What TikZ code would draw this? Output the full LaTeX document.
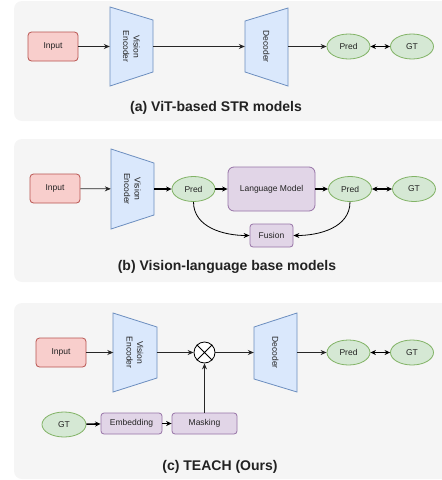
\documentclass[tikz,border=0pt]{standalone}
\usepackage{fontspec}
\setmainfont{Liberation Sans}
\usetikzlibrary{arrows.meta,shapes.geometric}
\definecolor{redf}{HTML}{F8CECC}\definecolor{reds}{HTML}{B85450}
\definecolor{bluef}{HTML}{DAE8FC}\definecolor{blues}{HTML}{6C8EBF}
\definecolor{greenf}{HTML}{D5E8D4}\definecolor{greens}{HTML}{82B366}
\definecolor{purf}{HTML}{E1D5E7}\definecolor{purs}{HTML}{9673A6}
\definecolor{panelf}{HTML}{F5F5F5}
\definecolor{txt}{HTML}{222222}
\begin{document}
\begin{tikzpicture}[x=1pt,y=1pt,
  every node/.style={font=\fontsize{8.5}{10.5}\selectfont, text=txt, inner sep=0pt},
  panel/.style={fill=panelf, rounded corners=8pt},
  inbox/.style={draw=reds, fill=redf, rounded corners=3.5pt, minimum width=50, minimum height=29, line width=0.8pt},
  purbox/.style={draw=purs, fill=purf, rounded corners=3pt, line width=0.8pt},
  oval/.style={ellipse, draw=greens, fill=greenf, minimum width=43, minimum height=25, line width=0.8pt},
  trap/.style={draw=blues, fill=bluef, line width=0.8pt},
  anchorbox/.style={rectangle, draw=none, minimum width=43, minimum height=79},
  thin/.style={draw=black!85, line width=0.8pt, -{Stealth[length=6pt,width=5pt]}},
  thick/.style={draw=black, line width=1.6pt, -{Stealth[length=5.5pt,width=5pt]}},
  both/.style={draw=black, line width=1.6pt, {Stealth[length=5.5pt,width=5pt]}-{Stealth[length=5.5pt,width=5pt]}},
  title/.style={font=\fontsize{14}{16}\selectfont\bfseries}
]
\useasboundingbox (0,0) rectangle (442,-480);
\clip (0,0) rectangle (442,-480);
% panels
\fill[panel] (14,-1) rectangle (470,-121);
\fill[panel] (14,-139) rectangle (470,-282);
\fill[panel] (14,-303) rectangle (470,-479);

% ---------- (a)
\node[inbox] (ina) at (53,-46.5) {Input};
\node[anchorbox] (vea) at (131.5,-46.5) {};
\path[trap] (110,-7) -- (110,-86) -- (153,-72) -- (153,-20) -- cycle;
\node[rotate=-90, align=center] (veat) at (vea.center) {Vision\\Encoder};
\node[anchorbox] (deca) at (266.5,-46.5) {};
\path[trap] (245,-21) -- (245,-72) -- (288,-86) -- (288,-8) -- cycle;
\node[rotate=-90] (decat) at (deca.center) {Decoder};
\node[oval] (preda) at (348.5,-46.5) {Pred};
\node[oval] (gta) at (412,-46.5) {GT};
\draw[thin] (ina) -- (vea);
\draw[thin] (vea) -- (deca);
\draw[thin] (deca) -- (preda);
\draw[both] (preda) -- (gta);
\node[title] (ta) at (216,-108) {(a) ViT-based STR models};

% ---------- (b)
\node[inbox] (inb) at (55,-188.5) {Input};
\node[anchorbox, minimum height=80] (veb) at (132.5,-189) {};
\path[trap] (111,-149) -- (111,-229) -- (154,-215) -- (154,-163) -- cycle;
\node[rotate=-90, align=center] (vebt) at (veb.center) {Vision\\Encoder};
\node[oval] (predb) at (193.5,-189) {Pred};
\node[purbox, rounded corners=6pt, minimum width=87, minimum height=44] (lm) at (271.5,-189) {Language Model};
\node[oval] (predc) at (350,-189) {Pred};
\node[oval] (gtb) at (414,-189) {GT};
\node[purbox, minimum width=43, minimum height=23] (fus) at (271.5,-235.5) {Fusion};
\draw[thin] (inb) -- (veb);
\draw[thick] (veb) -- (predb);
\draw[thick] (predb) -- (lm);
\draw[thick] (lm) -- (predc);
\draw[both] (predc) -- (gtb);
\draw[thin, draw=black] (predb.south) to[out=-90,in=180] (fus.west);
\draw[thin, draw=black] (predc.south) to[out=-90,in=0] (fus.east);
\node[title] (tb) at (227,-267) {(b) Vision-language base models};

% ---------- (c)
\node[inbox] (inc) at (61,-352.5) {Input};
\node[anchorbox] (vec) at (135,-352.5) {};
\path[trap] (113,-313) -- (113,-392) -- (157,-378) -- (157,-327) -- cycle;
\node[rotate=-90, align=center] (vect) at (vec.center) {Vision\\Encoder};
\node[circle, draw=black, fill=white, line width=0.8pt, minimum size=21] (mul) at (204.5,-352.5) {};
\draw[line width=0.8pt] (mul.north west) -- (mul.south east) (mul.north east) -- (mul.south west);
\node[anchorbox] (decc) at (275.5,-352.5) {};
\path[trap] (254,-327) -- (254,-379) -- (297,-392) -- (297,-313) -- cycle;
\node[rotate=-90] (decct) at (decc.center) {Decoder};
\node[oval] (predd) at (348.5,-352.5) {Pred};
\node[oval] (gtc) at (412,-352.5) {GT};
\node[oval, minimum width=44] (gtd) at (64,-424.5) {GT};
\node[purbox, minimum width=61, minimum height=21] (emb) at (131.5,-423.5) {Embedding};
\node[purbox, minimum width=65, minimum height=21] (mask) at (204.5,-423.5) {Masking};
\draw[thin] (inc) -- (vec);
\draw[thin] (vec) -- (mul);
\draw[thin] (mul) -- (decc);
\draw[thin] (decc) -- (predd);
\draw[both] (predd) -- (gtc);
\draw[thick] (gtd) -- (emb);
\draw[thick] (emb) -- (mask);
\draw[thin] (mask) -- (mul);
\node[title] (tc) at (220,-467) {(c) TEACH (Ours)};
\end{tikzpicture}
\end{document}
